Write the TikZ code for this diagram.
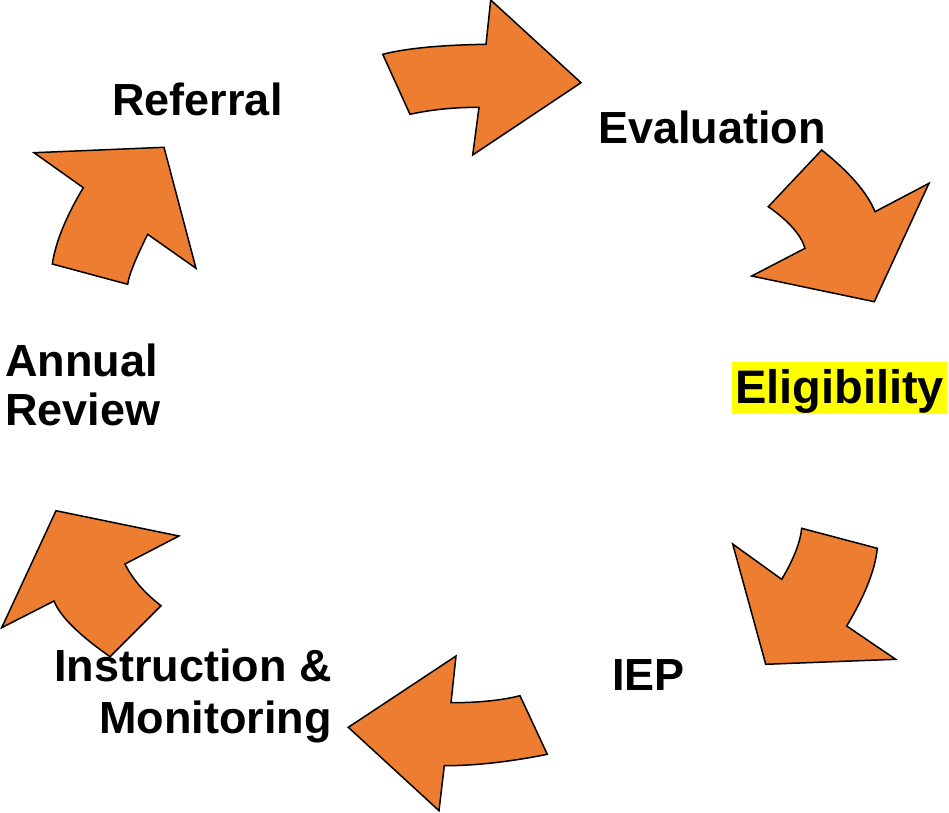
\documentclass[tikz,border=0pt]{standalone}
\usepackage{fontspec}
\setmainfont{Liberation Sans}
\definecolor{arroworange}{HTML}{ED7D31}
\definecolor{highlight}{HTML}{FFFF00}
\begin{document}
\begin{tikzpicture}[x=1pt,y=-1pt,
  cyclearrow/.style={fill=arroworange,draw=black,line width=1.5pt,line join=miter},
  stage/.style={inner sep=0pt,font=\fontsize{45}{50}\selectfont\bfseries}]
\useasboundingbox (0,0) rectangle (949,812);

% Referral -> Evaluation
\path[cyclearrow] (382.7,54.3) .. controls (406.2,48.3) and (440.7,45) .. (486,44.3)
  -- (490.7,0) -- (581,82.7) -- (472.7,155) -- (479,107.3)
  .. controls (454.2,107.3) and (431.2,109.6) .. (410,114.3) -- cycle;

% Evaluation -> Eligibility
\path[cyclearrow] (821.7,150) .. controls (849.8,172.5) and (867.5,193) .. (875,211.7)
  -- (929,183.3) -- (874.3,301.7) -- (751.7,276) -- (805,248.3)
  .. controls (800.9,234.8) and (788.7,221) .. (768.3,206.7) -- cycle;

% Eligibility -> IEP
\path[cyclearrow] (801.7,528.3) -- (877.3,548.3)
  .. controls (875.2,569.6) and (865,595.5) .. (846.7,626)
  -- (895.7,659.3) -- (765.7,664.3) -- (732.7,544) -- (781.7,579.3)
  .. controls (793.6,559.4) and (800.2,542.4) .. (801.7,528.3) -- cycle;

% IEP -> Instruction & Monitoring
\path[cyclearrow] (451,702.7) .. controls (478.3,702.7) and (501.3,700.4) .. (520,695.7)
  -- (547.3,754.3) .. controls (509.3,761.9) and (475,765.7) .. (444.3,765.7)
  -- (439,810.7) -- (348.3,727.3) -- (456,656) -- cycle;

% Instruction & Monitoring -> Annual Review
\path[cyclearrow] (56,510.7) -- (179,536) -- (125,564)
  .. controls (132.1,578.3) and (143.5,592.2) .. (161,605.7)
  -- (110,656.7) .. controls (78.7,634.7) and (60.1,616.3) .. (54,601)
  -- (1.7,627.7) -- cycle;

% Annual Review -> Referral
\path[cyclearrow] (34,152.7) -- (164,147.3) -- (196,268.3) -- (147.7,234.3)
  .. controls (135.2,259.3) and (128.6,276) .. (127.7,284.3)
  -- (52.3,264) .. controls (55.6,242) and (66,216.6) .. (83.3,187.7) -- cycle;

% Stage labels
\node[stage,anchor=base] (referral) at (197.5,115) {Referral};
\node[stage,anchor=base] (evaluation) at (712,143) {Evaluation};
\node[stage,anchor=base,fill=highlight,text height=41.3pt,text depth=10.7pt,
  minimum width=214.5pt,font=\fontsize{47}{52}\selectfont\bfseries]
  (eligibility) at (839.5,403.3) {Eligibility};
\node[stage,anchor=base] (iep) at (648.4,690) {IEP};
\node[stage,anchor=base east] (instruction) at (332,681.7) {Instruction \&};
\node[stage,anchor=base east] (monitoring) at (332,733.3) {Monitoring};
\node[stage,anchor=base west] (annual) at (5,376) {Annual};
\node[stage,anchor=base west] (review) at (5,425) {Review};
\end{tikzpicture}
\end{document}
